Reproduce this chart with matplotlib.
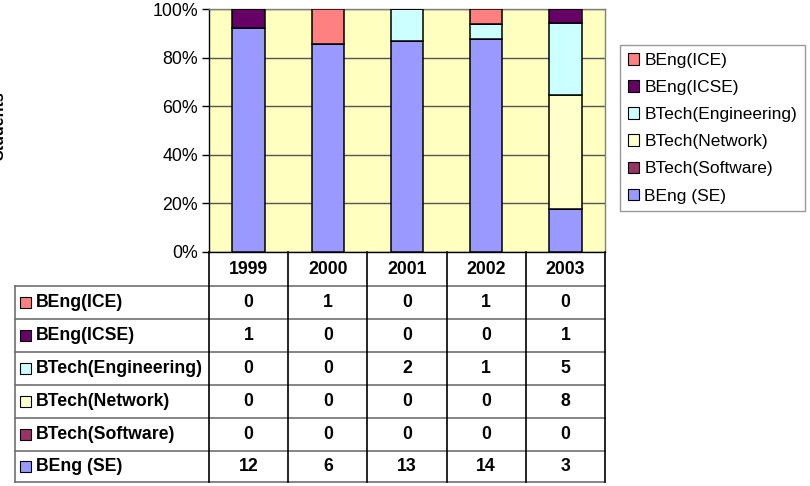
import matplotlib
matplotlib.use("Agg")
import matplotlib.pyplot as plt
import matplotlib.transforms as mtransforms
from matplotlib.lines import Line2D
from matplotlib.patches import Rectangle, Patch
import numpy as np

plt.rcParams['font.family'] = ['Liberation Sans', 'DejaVu Sans']

years = ["1999", "2000", "2001", "2002", "2003"]
# stacking order bottom -> top
series_names = ["BEng (SE)", "BTech(Software)", "BTech(Network)",
                "BTech(Engineering)", "BEng(ICSE)", "BEng(ICE)"]
beng_se = [12, 6, 13, 14, 3]
btech_software = [0, 0, 0, 0, 0]
btech_network = [0, 0, 0, 0, 8]
btech_engineering = [0, 0, 2, 1, 5]
beng_icse = [1, 0, 0, 0, 1]
beng_ice = [0, 1, 0, 1, 0]
series_values = [beng_se, btech_software, btech_network,
                 btech_engineering, beng_icse, beng_ice]
colors = ["#9999FF", "#993366", "#FFFFCC", "#CCFFFF", "#660066", "#FF8080"]
ytick_labels = ["0%", "20%", "40%", "60%", "80%", "100%"]

W, H = 810, 486
fig = plt.figure(figsize=(W / 100, H / 100), dpi=100)

def fy(y):
    return 1 - y / H

def fx(x):
    return x / W

ax_l, ax_r, ax_t, ax_b = 209, 605, 9, 252
ax = fig.add_axes([fx(ax_l), fy(ax_b), fx(ax_r - ax_l), (ax_b - ax_t) / H])
ax.set_facecolor("#FFFFC0")

vals = np.array(series_values, dtype=float)
totals = vals.sum(axis=0)
pct = vals / totals * 100
x = np.arange(len(years))
bottom = np.zeros(len(years))
for name, p, c in zip(series_names, pct, colors):
    ax.bar(x, p, width=0.41, bottom=bottom, color=c, edgecolor="black",
           linewidth=1.1, label=name, zorder=3)
    bottom += p

ax.set_xlim(-0.5, len(years) - 0.5)
ax.set_ylim(0, 100)
ax.set_yticks([0, 20, 40, 60, 80, 100])
ax.set_yticklabels(ytick_labels)
ax.set_xticks([])
ax.tick_params(axis='y', direction='out', length=5, width=1, labelsize=12.8,
               pad=3, color="black")
ax.grid(axis='y', color="#555555", linewidth=1, zorder=1)
for s in ["top", "right"]:
    ax.spines[s].set_color("#808080")
    ax.spines[s].set_linewidth(1)
ax.spines["left"].set_color("black")
ax.spines["bottom"].set_color("black")
ax.spines["left"].set_linewidth(1)
ax.spines["bottom"].set_linewidth(1)

# y label (partly cut off at figure edge, as in reference)
fig.text(fx(-1), fy(126), "Students", rotation=90, ha="center", va="center",
         fontsize=11.5, fontweight="bold")

# legend (top to bottom = reverse of stacking)
handles = [Patch(facecolor=c, edgecolor="black", linewidth=0.8)
           for c in colors][::-1]
leg = fig.legend(handles, series_names[::-1],
                 loc="upper left", bbox_to_anchor=(fx(620), fy(45)),
                 fontsize=12.5, frameon=True, fancybox=False,
                 edgecolor="#808080", handlelength=0.65, handleheight=0.65,
                 handletextpad=0.3, labelspacing=0.7, borderpad=0.45,
                 borderaxespad=0)
leg.get_frame().set_linewidth(1)

# data table below the chart
trans = mtransforms.blended_transform_factory(ax.transData, fig.transFigure)
col_edges = np.arange(len(years) + 1) - 0.5
header_top, header_bot = 252, 286
row_lines = [286, 319, 352, 385, 418, 451, 482]
table_left = 15

def hline(y, x0, x1, color):
    fig.add_artist(Line2D([fx(x0), fx(x1)], [fy(y), fy(y)],
                          transform=fig.transFigure, color=color, lw=1.2))

for y in row_lines:
    hline(y, table_left, ax_r, "#707070")
# left border
fig.add_artist(Line2D([fx(table_left), fx(table_left)],
                      [fy(row_lines[0]), fy(row_lines[-1])],
                      transform=fig.transFigure, color="#707070", lw=1.2))
for e in col_edges:
    fig.add_artist(Line2D([e, e], [fy(header_top), fy(row_lines[-1])],
                          transform=trans, color="black", lw=1.2))

for i, yr in enumerate(years):
    fig.text(x[i], fy((header_top + header_bot) / 2), yr, transform=trans,
             ha="center", va="center", fontsize=12.7, fontweight="bold")

table_order = list(range(len(series_names)))[::-1]
for r, si in enumerate(table_order):
    yc = (row_lines[r] + row_lines[r + 1]) / 2
    fig.add_artist(Rectangle((fx(20), fy(yc + 5.5)), fx(11), 11 / H,
                             transform=fig.transFigure,
                             facecolor=colors[si], edgecolor="black", lw=0.8))
    fig.text(fx(36), fy(yc), series_names[si], ha="left", va="center",
             fontsize=12.7, fontweight="bold")
    for i in range(len(years)):
        fig.text(x[i], fy(yc), str(series_values[si][i]), transform=trans,
                 ha="center", va="center", fontsize=12.7, fontweight="bold")

fig.savefig("out.png", dpi=100)
